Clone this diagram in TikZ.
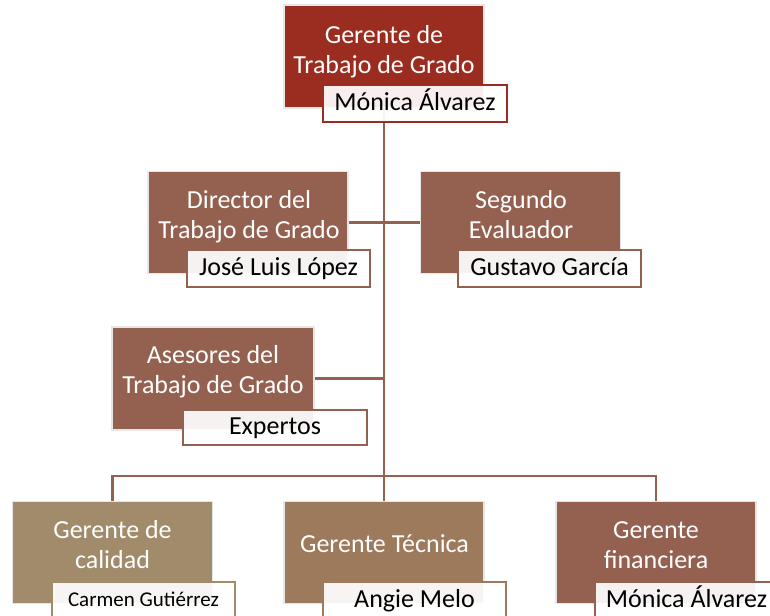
\documentclass[tikz,border=0pt]{standalone}
\usepackage{fontspec}
\setmainfont{Carlito}
\definecolor{topred}{HTML}{9B2D20}
\definecolor{midbrown}{HTML}{946050}
\definecolor{tanA}{HTML}{A28B6A}
\definecolor{tanB}{HTML}{9D7A5B}
\definecolor{linecol}{HTML}{946050}
\definecolor{edgegray}{HTML}{E6E6E6}
\tikzset{
  orgbox/.style={rectangle, draw=edgegray, line width=1.5pt, inner sep=0pt,
    minimum width=200pt, minimum height=102pt},
  titletext/.style={text=white, font=\fontsize{26}{30}\selectfont, align=center, inner sep=0pt},
  namebox/.style={rectangle, fill=white, fill opacity=0.92, text opacity=1,
    line width=1.8pt, inner sep=0pt, minimum width=183pt, minimum height=37pt,
    text height=19pt, text depth=5pt, font=\fontsize{26}{30}\selectfont},
  conn/.style={draw=linecol, line width=2.8pt}
}
\begin{document}
\begin{tikzpicture}[x=1pt,y=-1pt]
\useasboundingbox (0,0) rectangle (770,615);

% boxes
\node[orgbox, fill=topred, minimum height=103pt] (gtg) at (384,56.5) {};
\node[orgbox, fill=midbrown] (dir) at (248,222.5) {};
\node[orgbox, fill=midbrown] (seg) at (520.5,222.5) {};
\node[orgbox, fill=midbrown, minimum width=202pt, minimum height=103pt] (ase) at (213,378.5) {};
\node[orgbox, fill=tanA] (gc) at (112.5,552.5) {};
\node[orgbox, fill=tanB] (gt) at (384,552.5) {};
\node[orgbox, fill=midbrown] (gf) at (656,552.5) {};

% connectors
\coordinate (bus) at (384,476);
\coordinate (aseJ) at (384,378.5);
\draw[conn] (gtg.south) -- (bus);
\draw[conn] (dir.east) -- (seg.west);
\draw[conn] (ase.east) -- (aseJ);
\draw[conn] (gc.north) -- (gc.north |- bus) -- (gf.north |- bus) -- (gf.north);
\draw[conn] (bus) -- (gt.north);

% titles
\node[titletext] (tgtg) at (384,51.6) {Gerente de\\Trabajo de Grado};
\node[titletext] (tdir) at (249,216.6) {Director del\\Trabajo de Grado};
\node[titletext] (tseg) at (521,214.5) {Segundo\\Evaluador};
\node[titletext] (tase) at (213,371.6) {Asesores del\\Trabajo de Grado};
\node[titletext] (tgc) at (112.5,545) {Gerente de\\calidad};
\node[titletext] (tgt) at (384.5,543.3) {Gerente Técnica};
\node[titletext] (tgf) at (656,545.6) {Gerente\\financiera};

% name boxes
\node[namebox, draw=topred, minimum width=184pt] (ngtg) at (415,103.5) {Mónica Álvarez};
\node[namebox, draw=midbrown] (ndir) at (278.5,268.5) {José Luis López};
\node[namebox, draw=midbrown] (nseg) at (549.5,268.5) {Gustavo García};
\node[namebox, draw=midbrown, minimum width=184pt, minimum height=35pt] (nase) at (275,427.5) {Expertos};
\node[namebox, draw=tanA, font=\fontsize{21}{25}\selectfont, text height=16pt, text depth=4pt] (ngc) at (143.5,600.5) {Carmen Gutiérrez};
\node[namebox, draw=tanB] (ngt) at (414.5,600.5) {Angie Melo};
\node[namebox, draw=midbrown] (ngf) at (686.5,600.5) {Mónica Álvarez};
\end{tikzpicture}
\end{document}
